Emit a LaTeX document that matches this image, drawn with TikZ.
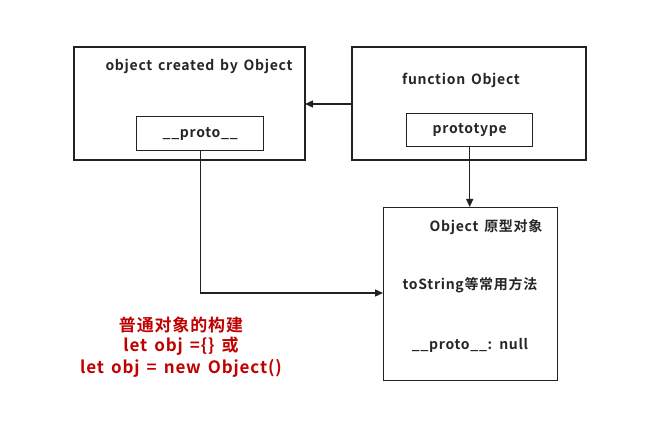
\documentclass[tikz,border=0pt]{standalone}
\usepackage{fontspec}
\setmainfont{Noto Sans CJK SC}[BoldFont={Noto Sans CJK SC Bold}]
\newfontfamily\lsfont{Noto Sans CJK SC Bold}[LetterSpace=5,WordSpace=1.5]
\usetikzlibrary{arrows.meta}
\definecolor{redtxt}{HTML}{C00000}
\definecolor{linec}{HTML}{222222}
\begin{document}
\begin{tikzpicture}[x=1pt,y=-1pt,
  box/.style={draw=linec,line width=1.4pt},
  lbl/.style={font=\lsfont\fontsize{14}{16}\selectfont,text=black!85,inner sep=0pt},
  red/.style={font=\lsfont\fontsize{17}{20}\selectfont,text=redtxt,inner sep=0pt},
  conn/.style={draw=linec,line width=1.3pt,-{Triangle[length=8pt,width=7pt]}}]
\useasboundingbox (0,0) rectangle (650,443);
\fill[white] (0,0) rectangle (650,443);
% boxes
\draw[box] (74,47) rectangle (305,160);
\coordinate (Aright) at (305,104);
\node[box,minimum width=127pt,minimum height=34pt,anchor=north west,inner sep=0pt] (proto) at (136,116) {};
\draw[box] (352,47) rectangle (586,160);
\coordinate (Bleft) at (352,104);
\node[box,minimum width=126pt,minimum height=33pt,anchor=north west,inner sep=0pt] (prototype) at (406,113) {};
\node[box,minimum width=174pt,minimum height=173pt,anchor=north west,inner sep=0pt] (C) at (383,207) {};
% texts
\node[lbl] (t1) at (199,66) {object created by Object};
\node[lbl] (t2) at (461,80) {function Object};
\node[lbl] (t3) at (proto.center) {\_\_proto\_\_};
\node[lbl] (t4) at (prototype.center) {prototype};
\node[lbl] (t5) at (486,227) {Object 原型对象};
\node[lbl] (t6) at (470,285) {toString等常用方法};
\node[lbl] (t7) at (470,345) {\_\_proto\_\_: null};
\node[red] (r1) at (181,325) {普通对象的构建};
\node[red] (r2) at (181,346) {let obj =\{\} 或};
\node[red] (r3) at (181,368) {let obj = new Object()};
% connectors
\draw[conn] (Bleft) -- (Aright);
\draw[conn] (prototype.south) -- (C.north -| prototype.south);
\draw[conn] (proto.south) |- (C.west |- 0,293);
\end{tikzpicture}
\end{document}
